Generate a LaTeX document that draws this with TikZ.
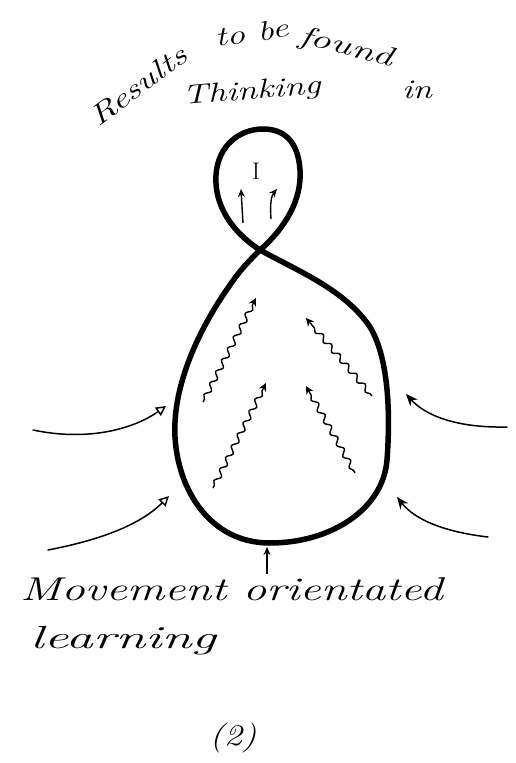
\documentclass[tikz,border=0pt]{standalone}
\usepackage{graphicx}
\usetikzlibrary{arrows.meta,decorations.pathmorphing}
\newcommand{\hwtext}[2]{\scalebox{#1}[1]{#2}}
\begin{document}
\begin{tikzpicture}[x=1pt,y=-1pt,
  loopline/.style={line width=5.5pt, line join=round},
  sidearrow/.style={line width=1.5pt, line cap=round},
  openhead/.style={-{Triangle[open,length=10pt,width=10pt,line width=1.5pt]}},
  fillhead/.style={-{Stealth[length=12pt,width=10pt]}},
  wavy/.style={line width=1.4pt, -{Stealth[length=8pt,width=8pt]},
     decorate, decoration={snake, amplitude=2.6pt, segment length=13pt, post length=7pt, pre length=3pt}},
  smallarrow/.style={line width=1.4pt, -{Stealth[open,length=8pt,width=7pt,line width=1.2pt]}},
  hw/.style={inner sep=0pt}
]
\useasboundingbox (0,0) rectangle (515,763);

% figure-eight outline
\coordinate (cross) at (260,250);
\draw[loopline] (cross)
  .. controls (285,228) and (302,200) .. (300,170)
  .. controls (298,140) and (283,129) .. (263,129)
  .. controls (240,129) and (218,145) .. (216,175)
  .. controls (214,205) and (232,232) .. (cross)
  .. controls (300,272) and (345,290) .. (370,327)
  .. controls (390,360) and (390,420) .. (387,460)
  .. controls (383,510) and (330,543) .. (270,543)
  .. controls (210,543) and (178,490) .. (175,437)
  .. controls (172,380) and (205,320) .. (230,285)
  .. controls (240,270) and (250,260) .. (cross);

% symbol inside upper loop
\node[hw, font=\fontsize{24}{26}\selectfont] (ego) at (256,171) {I};
\coordinate (ua1) at (243,223); \coordinate (ua2) at (241,189);
\coordinate (ub1) at (271,219); \coordinate (ub2) at (277,189);
\draw[smallarrow] (ua1) -- (ua2);
\draw[smallarrow] (ub1) .. controls (270,205) and (271,196) .. (ub2);

% wavy arrows inside lower loop
\coordinate (w1t) at (203,402); \coordinate (w1h) at (256,298);
\coordinate (w2t) at (372,396); \coordinate (w2h) at (306,318);
\coordinate (w3t) at (213,488); \coordinate (w3h) at (266,383);
\coordinate (w4t) at (355,473); \coordinate (w4h) at (306,386);
\draw[wavy] (w1t) -- (w1h);
\draw[wavy] (w2t) -- (w2h);
\draw[wavy] (w3t) -- (w3h);
\draw[wavy] (w4t) -- (w4h);

% side arrows
\coordinate (l1t) at (33,430);  \coordinate (l1h) at (166,406);
\coordinate (l2t) at (48,550);  \coordinate (l2h) at (169,496);
\coordinate (r1t) at (507,427); \coordinate (r1h) at (406,394);
\coordinate (r2t) at (488,537); \coordinate (r2h) at (397,497);
\draw[sidearrow, openhead] (l1t) .. controls (90,442) and (135,428) .. (l1h);
\draw[sidearrow, openhead] (l2t) .. controls (100,540) and (140,525) .. (l2h);
\draw[sidearrow, fillhead] (r1t) .. controls (455,428) and (425,415) .. (r1h);
\draw[sidearrow, fillhead] (r2t) .. controls (445,532) and (415,520) .. (r2h);
\coordinate (bt) at (267,574); \coordinate (bh) at (267,547);
\draw[smallarrow] (bt) -- (bh);

% texts
\node[hw, anchor=base west, rotate=37, font=\itshape\fontsize{28}{32}\selectfont] (results) at (98,128) {\hwtext{1.35}{Results}};
\node[hw, anchor=base west, rotate=8, font=\itshape\fontsize{27}{30}\selectfont] (tobe) at (216,47) {\hwtext{1.35}{to be}};
\node[hw, anchor=base west, rotate=-14, font=\itshape\fontsize{27}{30}\selectfont] (found) at (298,43) {\hwtext{1.5}{found}};
\node[hw, anchor=base west, font=\itshape\fontsize{27}{30}\selectfont] (in) at (402,98) {\hwtext{1.3}{in}};
\node[hw, anchor=base west, rotate=5, font=\itshape\fontsize{27}{30}\selectfont] (thinking) at (183,105) {\hwtext{1.35}{Thinking}};
\node[hw, anchor=base west, font=\itshape\fontsize{33}{38}\selectfont] (movement) at (20,600) {\hwtext{1.42}{Movement orientated}};
\node[hw, anchor=base west, font=\itshape\fontsize{32}{38}\selectfont] (learning) at (30,648) {\hwtext{1.7}{learning}};
\node[hw, font=\itshape\fontsize{30}{34}\selectfont] (num) at (233,738) {\hwtext{1.2}{(2)}};
\end{tikzpicture}
\end{document}
